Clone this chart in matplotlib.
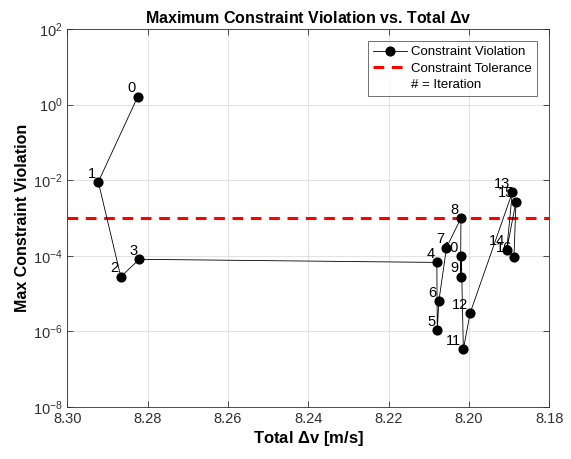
import numpy as np
import matplotlib.pyplot as plt
from matplotlib.lines import Line2D

plt.rcParams['font.family'] = ['Liberation Sans', 'DejaVu Sans']
plt.rcParams['mathtext.default'] = 'regular'

# iteration history
iters = list(range(17))
dv = [8.2825, 8.2923, 8.2867, 8.2821, 8.2080, 8.2079, 8.2075, 8.2056, 8.2020,
      8.2021, 8.2019, 8.2014, 8.1997, 8.1892, 8.1906, 8.1883, 8.1888]
viol = [1.6, 9.0e-3, 2.8e-5, 8.1e-5, 6.7e-5, 1.1e-6, 6.4e-6, 1.64e-4, 1.0e-3,
        2.8e-5, 9.9e-5, 3.4e-7, 3.1e-6, 4.8e-3, 1.45e-4, 2.7e-3, 9.5e-5]
tol = 1e-3
xticks = [8.30, 8.28, 8.26, 8.24, 8.22, 8.20, 8.18]
yticks = [1e-8, 1e-6, 1e-4, 1e-2, 1e0, 1e2]

fig = plt.figure(figsize=(5.71, 4.59), dpi=100)
ax = fig.add_axes([0.118, 0.113, 0.844, 0.824])

ax.plot(dv, viol, color='black', lw=0.6, marker='o', ms=6.3, mfc='black', mec='black',
        label='Constraint Violation', zorder=3)
ax.axhline(tol, color='red', ls=(0, (3.5, 2.5)), lw=2.2, label='Constraint Tolerance', zorder=2)

for i, x, y in zip(iters, dv, viol):
    ax.annotate(str(i), (x, y), xytext=(-1.5, 1), textcoords='offset points',
                ha='right', va='bottom', fontsize=10.5, zorder=4)

ax.set_yscale('log')
ax.set_xlim(8.30, 8.18)
ax.set_ylim(1e-8, 1e2)
ax.set_xticks(xticks)
ax.set_xticklabels([f'{t:.2f}' for t in xticks])
ax.set_yticks(yticks)
ax.yaxis.set_minor_locator(plt.NullLocator())
ax.grid(True, color='#e3e3e3', lw=0.8)
ax.set_axisbelow(True)
ax.tick_params(direction='in', length=4, colors='#303030', labelsize=10.5,
               top=True, right=True, width=0.6)
for s in ax.spines.values():
    s.set_color('#303030')
    s.set_linewidth(0.6)

ax.set_title('Maximum Constraint Violation vs. Total $\\Delta$v', fontsize=11.5,
             fontweight='bold', pad=4)
ax.set_xlabel('Total $\\Delta$v [m/s]', fontsize=12, fontweight='bold', labelpad=2)
ax.set_ylabel('Max Constraint Violation', fontsize=11.5, fontweight='bold', labelpad=2)

handles, labels = ax.get_legend_handles_labels()
handles.append(Line2D([], [], color='none'))
labels.append('# = Iteration')
leg = ax.legend(handles, labels, loc='upper right', fontsize=9.5, frameon=True,
                fancybox=False, edgecolor='#303030', handlelength=2.6,
                borderaxespad=0.9, labelspacing=0.3, handletextpad=0.3)
leg.get_frame().set_linewidth(0.6)

fig.savefig('out.png', dpi=100)
